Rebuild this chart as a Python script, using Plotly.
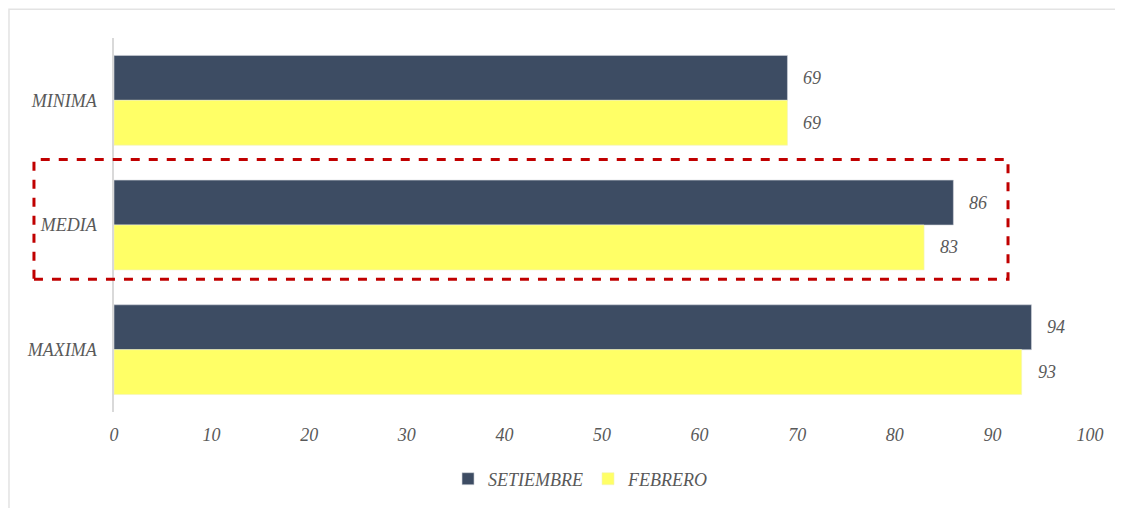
import plotly.graph_objects as go

categories = ["MINIMA", "MEDIA", "MAXIMA"]
setiembre = [69, 86, 94]
febrero = [69, 83, 93]
series_names = ["SETIEMBRE", "FEBRERO"]
x_ticks = [0, 10, 20, 30, 40, 50, 60, 70, 80, 90, 100]

font_family = "Liberation Serif"
gray = "#595959"

fig = go.Figure()
fig.add_trace(go.Bar(
    y=categories, x=setiembre, name=series_names[0], orientation="h",
    marker=dict(color="#3D4C63", line=dict(color="#D0D4DA", width=0.6)),
))
fig.add_trace(go.Bar(
    y=categories, x=febrero, name=series_names[1], orientation="h",
    marker=dict(color="#FFFF66", line=dict(color="#F2F2C0", width=0.6)),
))

# value labels to the right of each bar
for i, cat in enumerate(categories):
    for vals, off in ((setiembre, -0.18), (febrero, 0.18)):
        fig.add_annotation(
            x=vals[i], y=i + off, xref="x", yref="y",
            text=f"<i>{vals[i]}</i>", showarrow=False,
            xanchor="left", xshift=14,
            font=dict(family=font_family, size=18, color=gray),
        )

# dashed highlight around MEDIA
fig.add_shape(
    type="rect", xref="paper", yref="paper",
    x0=-0.082, x1=0.916, y0=0.355, y1=0.675,
    line=dict(color="#C00000", width=3, dash="dash"),
)
# outer chart border
fig.add_shape(
    type="rect", xref="paper", yref="paper",
    x0=-0.1076, x1=1.05, y0=-0.3, y1=1.077,
    line=dict(color="#E3E3E3", width=1.5),
)

# page body adds an 8px offset, so the figure is sized to fit the window
fig.update_layout(
    width=1115, height=500,
    barmode="group", bargap=0.28, bargroupgap=0,
    plot_bgcolor="white", paper_bgcolor="white",
    margin=dict(l=106, r=33, t=30, b=95),
    font=dict(family=font_family, size=18, color=gray),
    showlegend=True,
    legend=dict(
        orientation="h", x=0.478, y=-0.176, xanchor="center", yanchor="middle",
        font=dict(family=font_family, size=18, color=gray, style="italic"),
        itemwidth=30, tracegroupgap=0,
    ),
)
fig.update_xaxes(
    range=[0, 100], tickvals=x_ticks, showgrid=False, zeroline=False,
    showline=False, ticks="", ticklabelstandoff=10,
    tickfont=dict(family=font_family, size=18, color=gray, style="italic"),
)
fig.update_yaxes(
    categoryorder="array", categoryarray=categories, autorange="reversed",
    showgrid=False, zeroline=False, showline=True, linecolor="#D9D9D9", linewidth=1.5,
    ticks="", ticklabelstandoff=12,
    tickfont=dict(family=font_family, size=18, color=gray, style="italic"),
)

fig.write_html("out.html")
